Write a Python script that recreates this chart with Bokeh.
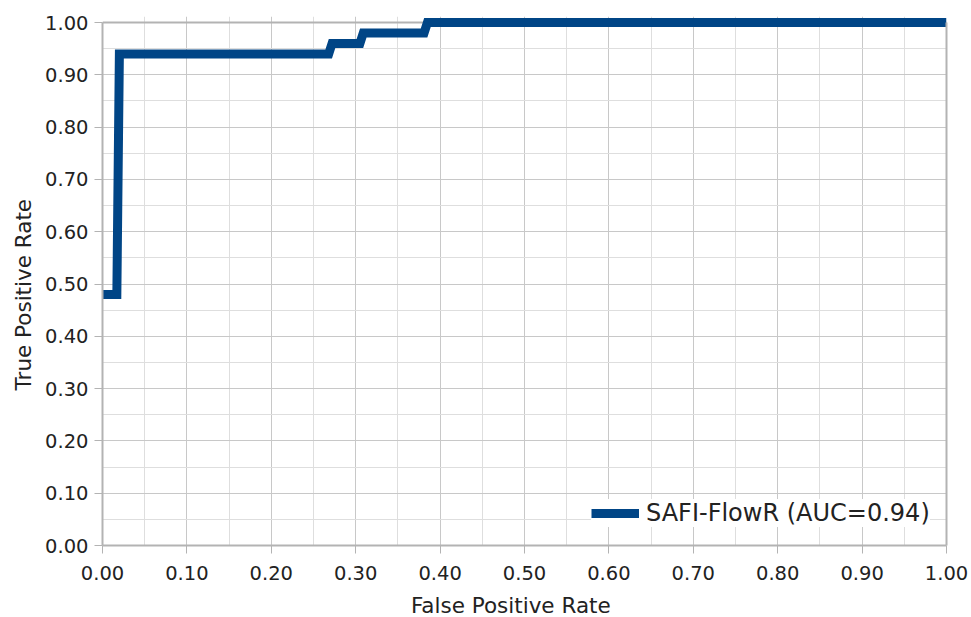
from bokeh.plotting import figure
from bokeh.models import (Range1d, FixedTicker, Span, LinearAxis, Legend, LegendItem,
                          NumeralTickFormatter)
from bokeh.embed import file_html
from bokeh.resources import INLINE

# ROC curve points
fpr = [0.0, 0.017, 0.020, 0.268, 0.272, 0.305, 0.309, 0.381, 0.385, 1.0]
tpr = [0.48, 0.48, 0.94, 0.94, 0.96, 0.96, 0.98, 0.98, 1.0, 1.0]
series_label = "SAFI-FlowR (AUC=0.94)"
x_title = "False Positive Rate"
y_title = "True Positive Rate"
major_ticks = [0.0, 0.1, 0.2, 0.3, 0.4, 0.5, 0.6, 0.7, 0.8, 0.9, 1.0]
minor_ticks = [0.05, 0.15, 0.25, 0.35, 0.45, 0.55, 0.65, 0.75, 0.85, 0.95]

FONT = "DejaVu Sans"
BORDER = "#b3b3b3"
CURVE = "#004586"
TEXT = "#222222"
PAD = "\u00a0" * 4  # shifts the centred axis titles like the reference

p = figure(frame_width=844, frame_height=529, output_backend="svg", toolbar_location=None,
           x_range=Range1d(0, 1.0), y_range=Range1d(0, 529 / 523),
           min_border_left=102, min_border_right=25, min_border_top=16, min_border_bottom=72,
           background_fill_color="white", border_fill_color="white")
p.outline_line_color = None

ticker = FixedTicker(ticks=major_ticks, minor_ticks=minor_ticks)
for ax in (p.xaxis[0], p.yaxis[0]):
    ax.ticker = ticker
    ax.formatter = NumeralTickFormatter(format="0.00")
    ax.bounds = (0, 1)
    ax.axis_line_color = BORDER
    ax.axis_line_width = 2
    ax.major_tick_line_color = BORDER
    ax.major_tick_out = 8
    ax.major_tick_in = 0
    ax.minor_tick_line_color = None
    ax.major_label_text_font = FONT
    ax.major_label_text_font_size = "19.5px"
    ax.major_label_text_color = TEXT
    ax.axis_label_text_font = FONT
    ax.axis_label_text_font_size = "21.5px"
    ax.axis_label_text_font_style = "normal"
    ax.axis_label_text_color = TEXT

p.xaxis.axis_label = x_title + PAD
p.yaxis.axis_label = y_title + PAD
p.xaxis.major_label_standoff = 12
p.yaxis.major_label_standoff = 6
p.xaxis.axis_label_standoff = 10
p.yaxis.axis_label_standoff = 6

for g in (p.xgrid[0], p.ygrid[0]):
    g.ticker = ticker
    g.grid_line_color = "#c8c8c8"
    g.grid_line_width = 1
    g.minor_grid_line_color = "#dedede"
    g.minor_grid_line_width = 1

# right border
rax = LinearAxis(ticker=ticker, bounds=(0, 1), axis_line_color=BORDER, axis_line_width=2,
                 major_tick_line_color=None, minor_tick_line_color=None,
                 major_label_text_font_size="0px", major_label_text_color=None)
p.add_layout(rax, "right")
# top border
p.add_layout(Span(location=1.0, dimension="width", line_color=BORDER, line_width=2,
                  level="underlay"))

r = p.line(fpr, tpr, line_color=CURVE, line_width=9, line_join="miter")

legend = Legend(items=[LegendItem(label=series_label, renderers=[r])],
                location=(489, 18), orientation="vertical",
                glyph_width=48, glyph_height=28, label_height=28, label_standoff=7,
                padding=4, margin=0, spacing=0,
                label_text_font=FONT, label_text_font_size="24px",
                label_text_color=TEXT,
                border_line_color=None, background_fill_color="white",
                background_fill_alpha=1.0)
p.add_layout(legend)

open("out.html", "w").write(file_html(p, INLINE))
